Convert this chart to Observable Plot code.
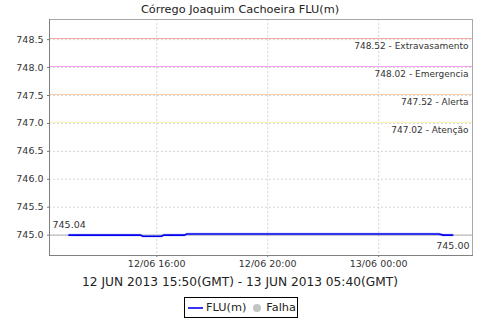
<!DOCTYPE html>
<html>
<head>
<meta charset="utf-8">
<script src="https://cdn.jsdelivr.net/npm/d3@7"></script>
<script src="https://cdn.jsdelivr.net/npm/@observablehq/plot@0.6"></script>
<style>
  html, body { margin: 0; padding: 0; background: #fff; }
  #wrap { position: relative; width: 480px; height: 320px; overflow: hidden; font-family: "DejaVu Sans", sans-serif; color: #222; }
  #title { position: absolute; left: 0; top: 0; width: 480px; height: 19px; line-height: 20px; text-align: center; font-size: 11.3px; }
  #chart { position: absolute; left: 0; top: 0; }
  #subtitle { position: absolute; left: 0; top: 273px; width: 480px; height: 18px; line-height: 18px; text-align: center; font-size: 12.2px; color: #222; }
  #legend { position: absolute; left: 184px; top: 297px; width: 114px; height: 21px; box-sizing: border-box; border: 1px solid #000; display: flex; align-items: center; font-size: 11.3px; }
  #legend .sw { display: inline-block; }
</style>
</head>
<body>
<div id="wrap">
  <div id="chart"></div>
  <div id="title"></div>
  <div id="subtitle"></div>
  <div id="legend"></div>
</div>
<script>
// ---- data ----
const titleText = "Córrego Joaquim Cachoeira FLU(m)";
const subtitleText = "12 JUN 2013 15:50(GMT) - 13 JUN 2013 05:40(GMT)";
const seriesName = "FLU(m)";
const failName = "Falha";

const times = [
  "2013-06-12T12:50", "2013-06-12T15:25", "2013-06-12T15:30", "2013-06-12T16:10",
  "2013-06-12T16:15", "2013-06-12T17:00", "2013-06-12T17:05", "2013-06-13T02:10",
  "2013-06-13T02:20", "2013-06-13T02:40"
];
const levels = [745.00, 745.00, 744.98, 744.98, 745.00, 745.00, 745.02, 745.02, 745.00, 745.00];

const thresholdValues = [748.52, 748.02, 747.52, 747.02];
const thresholdNames = ["Extravasamento", "Emergencia", "Alerta", "Atenção"];
const thresholdColors = ["#f5a6a6", "#f0a0f0", "#f7caa4", "#f9efb0"];

const baseLevel = 745.0;
const startLabel = "745.04";
const endLabel = "745.00";

const yTicks = [745.0, 745.5, 746.0, 746.5, 747.0, 747.5, 748.0, 748.5];
const xTickStrings = ["2013-06-12T16:00", "2013-06-12T20:00", "2013-06-13T00:00"];
const xDomainStrings = ["2013-06-12T12:08", "2013-06-13T03:23"];
const yDomain = [744.635, 748.861];

// ---- build ----
const toDate = s => new Date(s + ":00Z");
const data = times.map((t, i) => ({time: toDate(t), value: levels[i]}));
const thresholds = thresholdValues.map((v, i) => ({value: v, name: thresholdNames[i], color: thresholdColors[i]}));
const xTicks = xTickStrings.map(toDate);
const fmtX = d3.utcFormat("%d/%m %H:%M");

const chart = Plot.plot({
  width: 480,
  height: 275,
  marginTop: 19,
  marginBottom: 20,
  marginLeft: 49,
  marginRight: 8,
  style: {fontFamily: "DejaVu Sans, sans-serif", fontSize: "9.5px", color: "#333", background: "transparent"},
  x: {type: "utc", domain: xDomainStrings.map(toDate)},
  y: {domain: yDomain},
  marks: [
    Plot.gridY(yTicks, {stroke: "#d6d6d6", strokeOpacity: 1, strokeDasharray: "2,2"}),
    Plot.gridX(xTicks, {stroke: "#d6d6d6", strokeOpacity: 1, strokeDasharray: "2,2"}),
    Plot.ruleY(thresholds, {y: "value", stroke: "color", strokeWidth: 1}),
    Plot.ruleY([baseLevel], {stroke: "#b0b0b0", strokeWidth: 1}),
    Plot.line(data, {x: "time", y: "value", stroke: "#a8a8ff", strokeWidth: 3, strokeOpacity: 0.45}),
    Plot.line(data, {x: "time", y: "value", stroke: "#0000ee", strokeWidth: 1.6}),
    Plot.text(thresholds, {
      y: "value", text: d => `${d.value.toFixed(2)} - ${d.name}`,
      frameAnchor: "right", textAnchor: "end", dx: -4, dy: 7.5,
      fontSize: 9, fill: "#333"
    }),
    Plot.text([baseLevel], {y: d => d, text: () => startLabel, frameAnchor: "left", textAnchor: "start", dx: 3, dy: -10, fontSize: 9.5, fill: "#333"}),
    Plot.text([baseLevel], {y: d => d, text: () => endLabel, frameAnchor: "right", textAnchor: "end", dx: -3, dy: 11, fontSize: 9.5, fill: "#333"}),
    Plot.axisY(yTicks, {tickSize: 2, tickPadding: 4, tickFormat: d => d.toFixed(1), label: null, stroke: "#777", fill: "#333"}),
    Plot.axisX(xTicks, {tickSize: 2, tickPadding: 3, tickFormat: fmtX, label: null, stroke: "#777", fill: "#333"}),
    Plot.frame({stroke: "#a8a8a8"}),
    Plot.frame({anchor: "left", stroke: "#808080"}),
    Plot.frame({anchor: "bottom", stroke: "#808080"})
  ]
});
document.getElementById("chart").appendChild(chart);
document.getElementById("title").textContent = titleText;
document.getElementById("subtitle").textContent = subtitleText;

const legend = document.getElementById("legend");
legend.innerHTML =
  `<svg class="sw" width="17" height="10" style="margin-left:2px;margin-right:2px"><line x1="1" x2="16" y1="5" y2="5" stroke="#0000ee" stroke-width="1.6"/></svg>` +
  `<span>${seriesName}</span>` +
  `<svg class="sw" width="12" height="10" style="margin-left:5px;margin-right:3px"><circle cx="6" cy="5" r="4" fill="#c4c4c4"/></svg>` +
  `<span>${failName}</span>`;
</script>
</body>
</html>
